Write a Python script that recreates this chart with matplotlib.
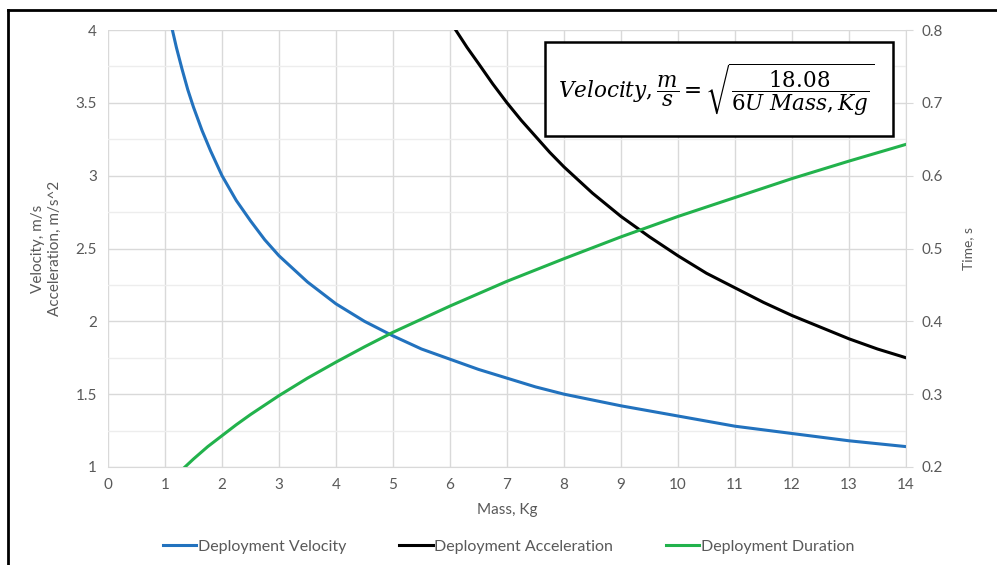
import matplotlib
matplotlib.use("Agg")
import matplotlib.pyplot as plt
from matplotlib.lines import Line2D
from matplotlib.patches import Rectangle
from matplotlib.ticker import MultipleLocator

# Values
vel_mass = [1.1, 1.2, 1.3, 1.4, 1.5, 1.65, 1.8, 2, 2.25, 2.5, 2.75, 3, 3.5, 4, 4.5, 5, 5.5,
            6, 6.5, 7, 7.5, 8, 9, 10, 11, 12, 13, 14]
vel_vals = [4.05, 3.88, 3.73, 3.59, 3.47, 3.31, 3.17, 3.00, 2.83, 2.69, 2.56, 2.45, 2.27,
            2.12, 2.00, 1.90, 1.81, 1.74, 1.67, 1.61, 1.55, 1.50, 1.42, 1.35, 1.28, 1.23,
            1.18, 1.14]

acc_mass = [6.1, 6.3, 6.5, 6.75, 7, 7.25, 7.5, 7.75, 8, 8.5, 9, 9.5, 10, 10.5, 11, 11.5,
            12, 12.5, 13, 13.5, 14]
acc_vals = [4.00, 3.88, 3.77, 3.63, 3.50, 3.38, 3.27, 3.16, 3.06, 2.88, 2.72, 2.58, 2.45,
            2.33, 2.23, 2.13, 2.04, 1.96, 1.88, 1.81, 1.75]

dur_mass = [1.35, 1.5, 1.75, 2, 2.25, 2.5, 3, 3.5, 4, 4.5, 5, 6, 7, 8, 9, 10, 11, 12, 13, 14]
dur_vals = [0.200, 0.211, 0.228, 0.243, 0.258, 0.272, 0.298, 0.322, 0.344, 0.365, 0.385,
            0.421, 0.455, 0.486, 0.516, 0.544, 0.570, 0.596, 0.620, 0.643]

x_ticks = list(range(0, 15))
left_ticks = [1, 1.5, 2, 2.5, 3, 3.5, 4]
right_ticks = [0.2, 0.3, 0.4, 0.5, 0.6, 0.7, 0.8]

BLUE = "#2272BE"
GREEN = "#22B24C"
TXT = "#595959"
GRID = "#D9D9D9"

plt.rcParams["font.family"] = ["Lato", "DejaVu Sans"]
plt.rcParams["mathtext.fontset"] = "dejavuserif"

fig = plt.figure(figsize=(9.97, 5.65), dpi=100)
ax = fig.add_axes([108 / 997, 1 - 467 / 565, 798 / 997, 437 / 565])

ax.plot(vel_mass, vel_vals, color=BLUE, lw=2.2, label="Deployment Velocity")
ax.plot(acc_mass, acc_vals, color="black", lw=2.2, label="Deployment Acceleration")
ax.set_xlim(0, 14)
ax.set_ylim(1, 4)
ax.set_xticks(x_ticks)
ax.set_yticks(left_ticks)
ax.set_yticklabels(["1", "1.5", "2", "2.5", "3", "3.5", "4"])
ax.yaxis.set_minor_locator(MultipleLocator(0.25))
ax.grid(True, which="major", color=GRID, lw=1)
ax.grid(True, which="minor", axis="y", color="#EDEDED", lw=1)
ax.set_axisbelow(True)
ax.tick_params(which="both", length=0, colors=TXT, labelsize=11, pad=8)
for s in ["top", "left", "right"]:
    ax.spines[s].set_visible(False)
ax.spines["bottom"].set_color(GRID)
ax.set_xlabel("Mass, Kg", color=TXT, fontsize=11, labelpad=8)
ax.set_ylabel("Velocity, m/s\nAcceleration, m/s^2", color=TXT, fontsize=11, labelpad=10)

ax2 = ax.twinx()
ax2.plot(dur_mass, dur_vals, color=GREEN, lw=2.2, label="Deployment Duration")
ax2.set_ylim(0.2, 0.8)
ax2.set_yticks(right_ticks)
ax2.set_yticklabels(["0.2", "0.3", "0.4", "0.5", "0.6", "0.7", "0.8"])
ax2.tick_params(axis="y", length=5, color=GRID, colors=TXT, labelsize=11, pad=6)
for s in ["top", "left", "bottom"]:
    ax2.spines[s].set_visible(False)
ax2.spines["right"].set_color(GRID)
ax2.set_ylabel("Time, s", color=TXT, fontsize=10, labelpad=14)

# equation box (drawn on top of all curves)
box_ax = fig.add_axes(ax.get_position(), sharex=ax, sharey=ax, frameon=False)
box_ax.axis("off")
box_ax.add_patch(Rectangle((7.67, 3.272), 6.1, 0.646, fc="white", ec="black", lw=1.8))
box_ax.text(10.68, 3.595,
            r"$\mathit{Velocity},\dfrac{m}{s}=\sqrt{\dfrac{18.08}{\mathit{6U\ Mass,Kg}}}$",
            ha="center", va="center", fontsize=15.5)

handles = [Line2D([], [], color=BLUE, lw=2.2), Line2D([], [], color="black", lw=2.2),
           Line2D([], [], color=GREEN, lw=2.2)]
fig.legend(handles, ["Deployment Velocity", "Deployment Acceleration", "Deployment Duration"],
           loc="center", bbox_to_anchor=(0.51, 1 - 547 / 565), ncol=3, frameon=False,
           handlelength=2.1, handletextpad=0.1, columnspacing=3.3, fontsize=11.5,
           labelcolor=TXT)

# outer frame of the screenshot
fig.add_artist(Line2D([8 / 997, 1.0], [1 - 10 / 565, 1 - 10 / 565], color="black", lw=2,
                      transform=fig.transFigure))
fig.add_artist(Line2D([8 / 997, 8 / 997], [0, 1 - 10 / 565], color="black", lw=2,
                      transform=fig.transFigure))

fig.savefig("out.png", dpi=100)
